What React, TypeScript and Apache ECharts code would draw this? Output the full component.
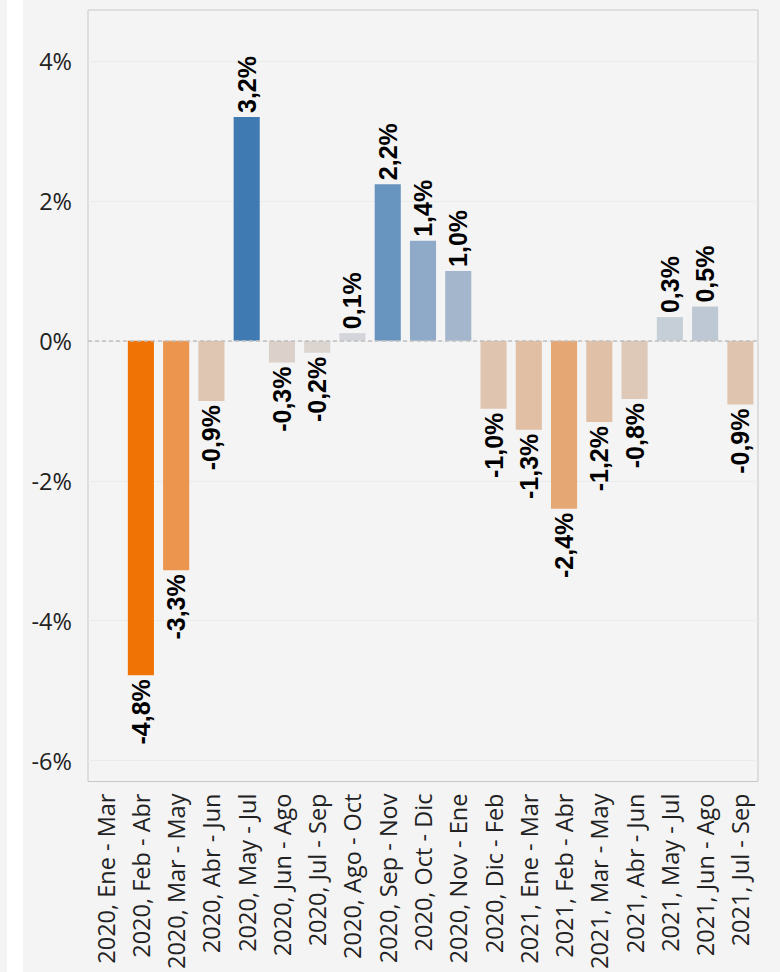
import React, { useEffect, useRef } from "react";
import * as echarts from "echarts";

const categories: string[] = [
  "2020, Ene - Mar",
  "2020, Feb - Abr",
  "2020, Mar - May",
  "2020, Abr - Jun",
  "2020, May - Jul",
  "2020, Jun - Ago",
  "2020, Jul - Sep",
  "2020, Ago - Oct",
  "2020, Sep - Nov",
  "2020, Oct - Dic",
  "2020, Nov - Ene",
  "2020, Dic - Feb",
  "2021, Ene - Mar",
  "2021, Feb - Abr",
  "2021, Mar - May",
  "2021, Abr - Jun",
  "2021, May - Jul",
  "2021, Jun - Ago",
  "2021, Jul - Sep",
];

const values: (number | null)[] = [
  null, -4.78, -3.28, -0.86, 3.2, -0.31, -0.17, 0.11, 2.24, 1.43, 1.0,
  -0.97, -1.27, -2.4, -1.16, -0.83, 0.34, 0.49, -0.91,
];

const barColors: string[] = [
  "#dfc5b0", "#f07305", "#eb954f", "#dfc6b3", "#3f7ab3", "#dbd0ca",
  "#dbd4cf", "#d3d5da", "#6795bf", "#8eaac8", "#a4b6cc", "#dfc4af",
  "#e0bfa5", "#e5a874", "#e0c0a7", "#dec8b8", "#c6ced8", "#bdc8d4",
  "#dfc5b0",
];

const yTicks: number[] = [-6, -4, -2, 0, 2, 4];

const fmt = (v: number) => v.toFixed(1).replace(".", ",") + "%";

export default function App() {
  const ref = useRef<HTMLDivElement>(null);
  useEffect(() => {
    if (!ref.current) return;
    const chart = echarts.init(ref.current, undefined, { renderer: "svg" });
    const data = values.map((v, i) => {
      if (v === null) return null;
      const pos = v >= 0;
      return {
        value: v,
        itemStyle: { color: barColors[i] },
        label: {
          position: pos ? "top" : "bottom",
          align: pos ? "left" : "right",
        },
      };
    });
    chart.setOption({
      animation: false,
      backgroundColor: "transparent",
      grid: {
        left: 88,
        top: 10,
        right: 22,
        bottom: 190,
        show: true,
        borderColor: "#c8c8c8",
        borderWidth: 1,
        backgroundColor: "transparent",
        containLabel: false,
      },
      xAxis: {
        type: "category",
        data: categories,
        axisLine: { show: false },
        axisTick: { show: false },
        splitLine: { show: false },
        axisLabel: {
          interval: 0,
          rotate: 90,
          margin: 12,
          fontFamily: "Open Sans",
          fontSize: 23.5,
          color: "#222",
        },
      },
      yAxis: {
        type: "value",
        min: -6.3,
        max: 4.73,
        axisLine: { show: false },
        axisTick: { show: false, customValues: yTicks },
        splitLine: { show: true, lineStyle: { color: "#ebebeb", width: 1 } },
        axisLabel: {
          customValues: yTicks,
          formatter: (v: number) => `${Math.round(v)}%`,
          margin: 16,
          fontFamily: "Open Sans",
          fontSize: 23.5,
          color: "#222",
        },
      },
      series: [
        {
          type: "bar",
          data,
          barCategoryGap: "26%",
          label: {
            show: true,
            rotate: 90,
            verticalAlign: "middle",
            distance: 4,
            formatter: (p: any) => fmt(p.value),
            fontFamily: "Liberation Sans, Arial, sans-serif",
            fontWeight: "bold",
            fontSize: 25,
            color: "#000",
          },
          markLine: {
            silent: true,
            symbol: "none",
            label: { show: false },
            lineStyle: { color: "#c0c0c0", type: [4, 3], width: 1.6 },
            data: [{ yAxis: 0 }],
          },
        },
      ],
    });
    return () => chart.dispose();
  }, []);
  return (
    <div
      style={{
        position: "fixed",
        left: 0,
        top: 0,
        width: 780,
        height: 972,
        background: "#f4f4f4",
        overflow: "hidden",
      }}
    >
      <div
        style={{
          position: "absolute",
          left: 7,
          top: 0,
          width: 16,
          height: 972,
          background: "#ffffff",
        }}
      />
      <div
        ref={ref}
        style={{ position: "absolute", left: 0, top: 0, width: 780, height: 972 }}
      />
    </div>
  );
}
